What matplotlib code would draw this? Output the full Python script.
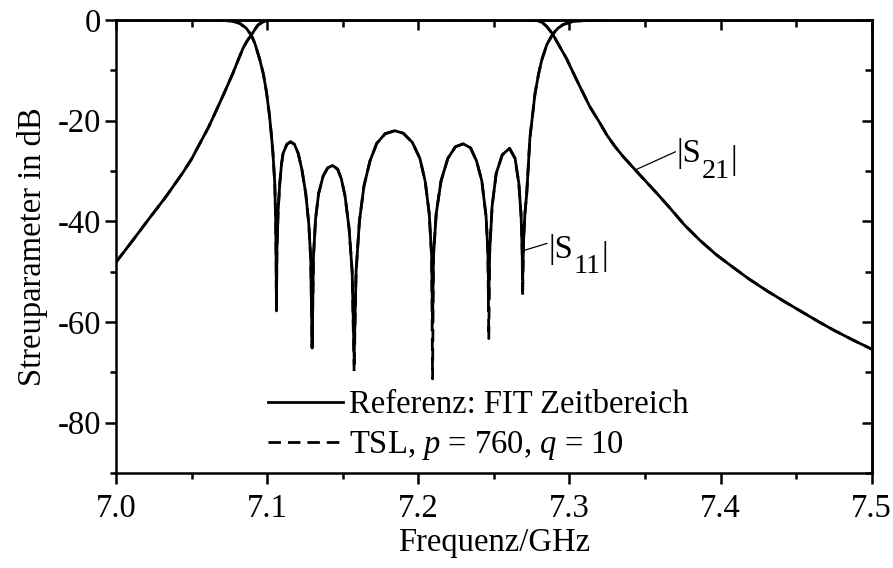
import matplotlib
matplotlib.use("Agg")
import matplotlib.pyplot as plt
from matplotlib.ticker import MultipleLocator, FuncFormatter

plt.rcParams['font.family'] = ['Liberation Serif', 'DejaVu Serif']
plt.rcParams['mathtext.fontset'] = 'custom'
plt.rcParams['mathtext.rm'] = 'Liberation Serif'
plt.rcParams['mathtext.it'] = 'Liberation Serif:italic'
plt.rcParams['axes.unicode_minus'] = False

# --- |S11| in dB (reference FIT time domain and TSL model) ---
freq_s11 = [7.000, 7.060, 7.070, 7.078, 7.082, 7.086, 7.0895, 7.092, 7.095, 7.0975,
            7.0995, 7.1015, 7.1028, 7.1038, 7.1050, 7.1056, 7.1059, 7.1061, 7.1064, 7.1072,
            7.1083, 7.1095, 7.1105, 7.1130, 7.1154, 7.1180, 7.1205, 7.1230, 7.1255, 7.1275,
            7.1288, 7.1297, 7.1306, 7.1320, 7.1340, 7.1370, 7.1400, 7.1432, 7.1465, 7.1490,
            7.1515, 7.1542, 7.1562, 7.1575, 7.1588, 7.1610, 7.1640, 7.1680, 7.1725, 7.1780,
            7.1844, 7.1900, 7.1960, 7.2010, 7.2045, 7.2072, 7.2088, 7.2094, 7.2100, 7.2118,
            7.2150, 7.2195, 7.2245, 7.2297, 7.2345, 7.2385, 7.2420, 7.2448, 7.2460, 7.2466,
            7.2472, 7.2488, 7.2515, 7.2555, 7.2603, 7.2640, 7.2665, 7.2680, 7.2687, 7.2690,
            7.2696, 7.2705, 7.2717, 7.2738, 7.2772, 7.2795, 7.2816, 7.2850, 7.2889, 7.2925,
            7.2959, 7.3020, 7.3100, 7.3300, 7.5000]
s11_ref = [0.0, 0.0, -0.05, -0.3, -0.7, -1.6, -3.0, -4.8, -7.8, -10.8,
           -14.3, -19.0, -23.0, -26.5, -32.5, -40.0, -48.0, -57.5, -46.0, -38.0,
           -32.5, -28.5, -26.5, -24.7, -24.2, -24.7, -26.5, -29.8, -34.5, -40.5,
           -47.5, -65.0, -47.0, -39.5, -34.5, -31.0, -29.4, -28.9, -29.6, -31.5,
           -35.0, -41.5, -50.0, -67.0, -50.0, -40.0, -33.0, -28.0, -24.5, -22.6,
           -22.0, -22.5, -24.3, -27.5, -32.0, -38.5, -47.0, -60.3, -47.0, -38.5,
           -32.0, -27.5, -25.2, -24.6, -25.4, -28.0, -32.0, -39.0, -46.0, -55.6,
           -46.0, -37.0, -30.5, -26.8, -25.5, -27.5, -32.5, -39.0, -46.0, -51.7,
           -44.0, -38.5, -34.5, -23.5, -14.6, -10.8, -8.0, -4.9, -2.8, -1.6,
           -0.9, -0.3, -0.1, 0.0, 0.0]
s11_tsl = [0.0, 0.0, -0.05, -0.3, -0.7, -1.6, -3.0, -4.8, -7.8, -10.8,
           -14.3, -19.0, -23.0, -26.5, -32.5, -40.0, -48.0, -57.8, -46.0, -38.0,
           -32.5, -28.5, -26.5, -24.7, -24.2, -24.7, -26.5, -29.8, -34.5, -40.5,
           -47.5, -65.2, -47.0, -39.5, -34.5, -31.0, -29.4, -28.9, -29.6, -31.5,
           -35.0, -41.5, -50.0, -69.8, -50.0, -40.0, -33.0, -28.0, -24.5, -22.6,
           -22.0, -22.5, -24.3, -27.5, -32.0, -38.5, -47.0, -71.3, -47.0, -38.5,
           -32.0, -27.5, -25.2, -24.6, -25.4, -28.0, -32.0, -39.0, -46.0, -63.3,
           -46.0, -37.0, -30.5, -26.8, -25.5, -27.5, -32.5, -39.0, -46.0, -55.0,
           -44.0, -38.5, -34.5, -23.5, -14.6, -10.8, -8.0, -4.9, -2.8, -1.6,
           -0.9, -0.3, -0.1, 0.0, 0.0]

# --- |S21| in dB ---
freq_s21 = [7.000, 7.011, 7.022, 7.033, 7.044, 7.050, 7.0553, 7.061, 7.0664, 7.0720,
            7.0774, 7.0810, 7.0840, 7.0870, 7.0895, 7.0920, 7.0939, 7.0970, 7.1000, 7.1100,
            7.2700, 7.2783, 7.2820, 7.2850, 7.2889, 7.2930, 7.2981, 7.3025, 7.3070, 7.3136,
            7.3202, 7.3246, 7.3300, 7.3357, 7.3445, 7.3577, 7.3666, 7.3760, 7.3864, 7.3970,
            7.4085, 7.4190, 7.4306, 7.4420, 7.4527, 7.4640, 7.4747, 7.4870, 7.5000]
s21_ref = [-48.1, -43.8, -39.4, -35.1, -30.4, -27.6, -24.6, -21.4, -17.9, -14.2,
           -10.5, -7.8, -5.6, -4.0, -3.0, -1.8, -1.0, -0.4, -0.1, 0.0,
           0.0, -0.1, -0.5, -1.3, -2.8, -5.0, -7.7, -10.5, -13.3, -17.3,
           -20.5, -22.8, -25.1, -27.2, -30.1, -34.4, -37.4, -40.7, -43.8, -46.6,
           -49.2, -51.5, -53.8, -55.9, -57.8, -59.8, -61.6, -63.5, -65.4]
s21_tsl = [-48.1, -43.8, -39.4, -35.1, -30.4, -27.6, -24.6, -21.4, -17.9, -14.2,
           -10.5, -7.8, -5.6, -4.0, -3.0, -1.8, -1.0, -0.4, -0.1, 0.0,
           0.0, -0.1, -0.5, -1.3, -2.8, -5.0, -7.7, -10.5, -13.3, -17.3,
           -20.5, -22.8, -25.1, -27.2, -30.1, -34.4, -37.4, -40.7, -43.8, -46.6,
           -49.2, -51.5, -53.8, -55.9, -57.8, -59.8, -61.6, -63.5, -65.4]

legend_labels = ["Referenz: FIT Zeitbereich", "TSL, $p$ = 760, $q$ = 10"]
x_major = [7.0, 7.1, 7.2, 7.3, 7.4, 7.5]
y_major = [0, -20, -40, -60, -80]

FS = 23.5
LW = 2.0

fig = plt.figure(figsize=(8.93, 5.68), dpi=100)
ax = fig.add_axes([0.1300, 0.1673, 0.8462, 0.7975])

ref_line, = ax.plot(freq_s11, s11_ref, color='black', lw=LW, solid_joinstyle='round')
ax.plot(freq_s21, s21_ref, color='black', lw=LW, solid_joinstyle='round')
tsl_line, = ax.plot(freq_s11, s11_tsl, color='black', lw=LW, dashes=(4.5, 2.5))
ax.plot(freq_s21, s21_tsl, color='black', lw=LW, dashes=(4.5, 2.5))

ax.set_xlim(7.0, 7.5)
ax.set_ylim(-90, 0)
ax.set_xticks(x_major)
ax.set_yticks(y_major)
ax.xaxis.set_minor_locator(MultipleLocator(0.05))
ax.yaxis.set_minor_locator(MultipleLocator(10))
ax.xaxis.set_major_formatter(FuncFormatter(lambda v, p: f"{v:.1f}"))
ax.yaxis.set_major_formatter(FuncFormatter(lambda v, p: f"{int(round(v))}"))

for s in ax.spines.values():
    s.set_linewidth(1.8)

ax.tick_params(axis='both', which='major', direction='out', length=8, width=1.8,
               labelsize=FS, top=False, right=False)
ax.tick_params(axis='both', which='minor', direction='out', length=4.5, width=1.8,
               top=False, right=False)
ax.tick_params(axis='x', which='major', pad=7)
ax.tick_params(axis='y', which='major', pad=3)

# mirrored ticks on top and right, pointing inward
top = ax.secondary_xaxis('top')
top.set_xticks(x_major)
top.xaxis.set_minor_locator(MultipleLocator(0.05))
top.tick_params(which='major', direction='in', length=7, width=1.8, labeltop=False)
top.tick_params(which='minor', direction='in', length=5, width=1.8)
top.spines['top'].set_linewidth(1.8)
right = ax.secondary_yaxis('right')
right.set_yticks(y_major)
right.yaxis.set_minor_locator(MultipleLocator(10))
right.tick_params(which='major', direction='in', length=7, width=1.8, labelright=False)
right.tick_params(which='minor', direction='in', length=5, width=1.8)
right.spines['right'].set_linewidth(1.8)

ax.set_xlabel("Frequenz/GHz", fontsize=FS, labelpad=2)
ax.set_ylabel("Streuparameter in dB", fontsize=FS, labelpad=7)

ax.legend([ref_line, tsl_line], legend_labels, loc='lower left',
          bbox_to_anchor=(0.192, 0.009), frameon=False, fontsize=FS,
          handlelength=2.3, handletextpad=0.2, labelspacing=0.28,
          borderaxespad=0.0, borderpad=0.2)


def curve_label(x, y, sub):
    """|S_ij| label: bars and S at full size, index slightly smaller and lowered."""
    t1 = ax.text(x, y, "|S", fontsize=FS, va='baseline', ha='left')
    t2 = ax.annotate(sub, xy=(1, 0), xycoords=t1, xytext=(0.5, -6),
                     textcoords='offset points', fontsize=FS * 0.86,
                     va='baseline', ha='left')
    ax.annotate("|", xy=(1, 0), xycoords=(t2, t1), xytext=(0.5, 0),
                textcoords='offset points', fontsize=FS, va='baseline', ha='left')


# curve labels with leader lines
ax.plot([7.2697, 7.2850], [-45.8, -44.4], color='black', lw=0.9)
curve_label(7.2858, -47.3, "11")
ax.plot([7.3435, 7.3700], [-29.8, -26.2], color='black', lw=0.9)
curve_label(7.3705, -28.3, "21")

fig.savefig("out.png", dpi=100)
